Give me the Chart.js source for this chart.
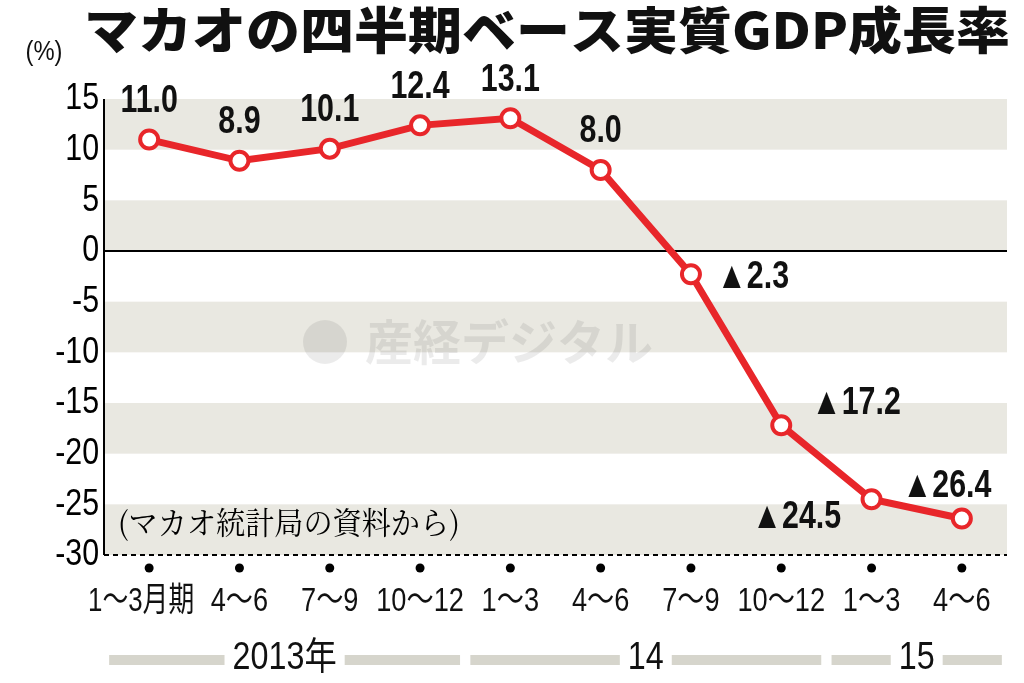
<!DOCTYPE html>
<html><head><meta charset="utf-8">
<script src="https://cdn.jsdelivr.net/npm/chart.js@4"></script>
<style>html,body{margin:0;background:#fff}#w{position:relative;width:1024px;height:683px}</style>
</head><body><div id="w"><canvas id="c" width="1024" height="683"></canvas></div>
<script>
const categories=["1～3月期","4～6","7～9","10～12","1～3","4～6","7～9","10～12","1～3","4～6"];
const growth=[11.0,8.9,10.1,12.4,13.1,8.0,-2.3,-17.2,-24.5,-26.4];
const yTicks=[15,10,5,0,-5,-10,-15,-20,-25,-30];
const years=[{label:"2013年",from:0,to:3},{label:"14",from:4,to:7},{label:"15",from:8,to:9}];
const labelOffsets=[[0,-38],[0,-38],[0,-38],[0,-38],[0,-38],[0,-38],[62,3],[75,-22],[-75,18],[-15,-32]];
const F='"Liberation Sans","Noto Sans CJK JP",sans-serif';
function ct(ctx,t,x,y,sx){ctx.save();ctx.translate(x,y);ctx.scale(sx,1);ctx.fillText(t,0,0);ctx.restore();}
const deco={id:'deco',
beforeDatasetsDraw(ch){const {ctx,chartArea:a,scales:{x,y}}=ch;ctx.save();
 ctx.fillStyle='#e9e8e1';
 for(const [t,b] of [[15,10],[5,0],[-5,-10],[-15,-20],[-25,-30]]){ctx.fillRect(a.left,y.getPixelForValue(t),a.right-a.left,y.getPixelForValue(b)-y.getPixelForValue(t));}
 ctx.strokeStyle='#000';ctx.lineWidth=2;
 ctx.beginPath();ctx.moveTo(a.left,y.getPixelForValue(0));ctx.lineTo(a.right,y.getPixelForValue(0));ctx.stroke();
 ctx.setLineDash([5,4]);ctx.beginPath();ctx.moveTo(a.left,y.getPixelForValue(-30));ctx.lineTo(a.right,y.getPixelForValue(-30));ctx.stroke();ctx.setLineDash([]);
 ctx.beginPath();ctx.moveTo(a.left,a.top);ctx.lineTo(a.left,y.getPixelForValue(-30));ctx.stroke();
 ctx.fillStyle='rgba(0,0,0,0.08)';ctx.font='bold 48px "Noto Sans CJK JP"';ctx.textBaseline='middle';ctx.fillText('産経デジタル',365,342);
 ctx.beginPath();ctx.arc(325,342,22,0,Math.PI*2);ctx.fill();
 ctx.fillStyle='#000';
 categories.forEach((c,i)=>{ctx.beginPath();ctx.arc(x.getPixelForValue(i),568,4.5,0,Math.PI*2);ctx.fill();});
 ctx.font='31px "Noto Serif CJK JP","Noto Sans CJK JP"';ctx.textAlign='left';ctx.textBaseline='middle';ct(ctx,'(マカオ統計局の資料から)',118,522,0.94);
 ctx.font='37px '+F;ctx.textAlign='right';
 yTicks.forEach(v=>ct(ctx,String(v),99,y.getPixelForValue(v),0.82));
 ctx.restore();},
afterDatasetsDraw(ch){const {ctx,scales:{x,y}}=ch;ctx.save();
 ctx.font='bold 38px '+F;ctx.textAlign='center';ctx.textBaseline='middle';ctx.fillStyle='#111';
 growth.forEach((v,i)=>{const t=v<0?'▲'+Math.abs(v).toFixed(1):v.toFixed(1);
  ct(ctx,t,x.getPixelForValue(i)+labelOffsets[i][0],y.getPixelForValue(v)+labelOffsets[i][1],0.8);});
 ctx.font='34px '+F;
 categories.forEach((c,i)=>ct(ctx,c,x.getPixelForValue(i)+(i===0?-8:0),602,i===0?0.76:0.8));
 ctx.font='38px '+F;
 years.forEach(yr=>{const l=x.getPixelForValue(yr.from)-44,r=x.getPixelForValue(yr.to)+44;
  ctx.fillStyle='#d6d5cc';ctx.fillRect(l+4,655,r-l-8,10);
  const m=(l+r)/2;const tw=ctx.measureText(yr.label).width*0.85;ctx.fillStyle='#fff';ctx.fillRect(m-tw/2-8,638,tw+16,40);
  ctx.fillStyle='#111';ct(ctx,yr.label,m,659,0.85);});
 ctx.font='28px '+F;ct(ctx,'(%)',44,52,0.85);
 ctx.font='900 50px "Noto Sans CJK JP"';ctx.textAlign='left';ct(ctx,'マカオの四半期ベース実質GDP成長率',84,30,1.08);
 ctx.restore();}};
new Chart(document.getElementById('c'),{type:'line',
data:{labels:categories,datasets:[{data:growth,borderColor:'#e8262a',borderWidth:7,pointRadius:9,pointBorderWidth:4,pointBackgroundColor:'#fff',pointBorderColor:'#e8262a',tension:0}]},
options:{responsive:false,animation:false,layout:{padding:{left:0,right:17,top:99,bottom:120}},
plugins:{legend:{display:false},tooltip:{enabled:false}},
scales:{x:{offset:true,grid:{display:false},border:{display:false},ticks:{display:false}},
y:{min:-30,max:15,afterBuildTicks:s=>{s.ticks=yTicks.map(v=>({value:v}));},afterFit:s=>{s.width=104;},
grid:{display:false},border:{display:false},ticks:{display:false}}}},
plugins:[deco]});
</script></body></html>
